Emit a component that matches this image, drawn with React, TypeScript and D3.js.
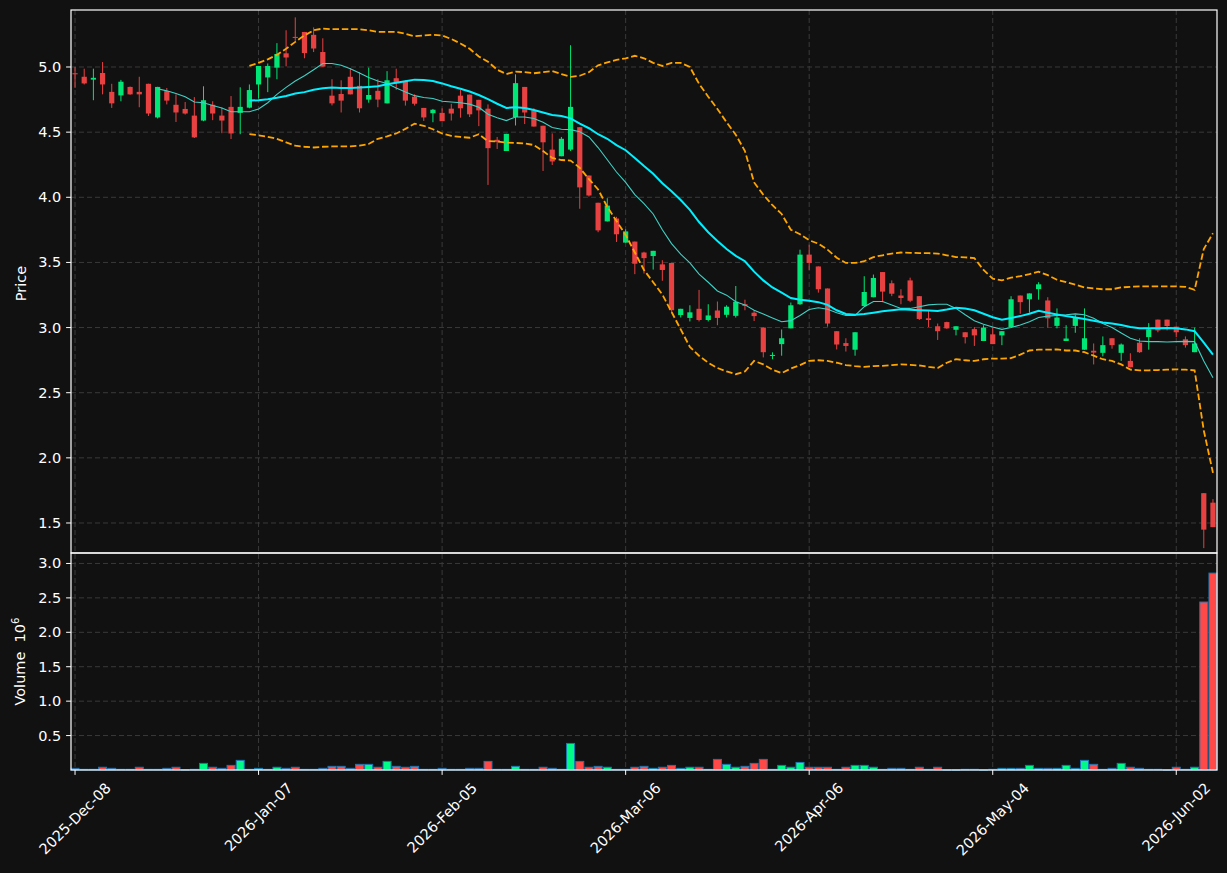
import { useEffect, useRef } from "react";
import * as d3 from "d3";

// daily candles, index 0 = 2025-12-08 (trading days only)
const opens = [
    4.952, 4.925, 4.903, 4.954, 4.809, 4.782, 4.847, 4.809, 4.871, 4.613,
    4.815, 4.71, 4.678, 4.627, 4.589, 4.71, 4.627, 4.694, 4.648, 4.688,
    4.866, 4.92, 4.995, 5.105, 5.231, 5.269, 5.247, 5.115, 4.78, 4.793,
    4.925, 4.855, 4.75, 4.817, 4.721, 4.914, 4.893, 4.772, 4.686, 4.645,
    4.648, 4.68, 4.78, 4.788, 4.748, 4.68, 4.441, 4.355, 4.616, 4.847,
    4.667, 4.549, 4.366, 4.315, 4.366, 4.538, 4.167, 3.958, 3.815, 3.837,
    3.652, 3.66, 3.576, 3.549, 3.485, 3.496, 3.096, 3.074, 3.144, 3.058,
    3.131, 3.098, 3.09, 3.179, 3.114, 3.0, 2.782, 2.873, 2.994, 3.179,
    3.56, 3.469, 3.3, 2.972, 2.881, 2.83, 3.165, 3.233, 3.426, 3.34,
    3.246, 3.362, 3.241, 3.071, 3.01, 3.042, 2.983, 2.964, 2.988, 2.897,
    2.948, 2.94, 3.004, 3.246, 3.217, 3.295, 3.208, 3.013, 2.897, 3.013,
    2.83, 2.822, 2.806, 2.918, 2.806, 2.744, 2.884, 2.927, 3.061, 3.061,
    3.007, 2.91, 2.811, 1.729, 1.656,
];
const highs = [
    5.0, 4.987, 4.987, 5.038, 4.871, 4.901, 4.85, 4.925, 4.872, 4.848,
    4.839, 4.79, 4.731, 4.769, 4.852, 4.737, 4.688, 4.777, 4.844, 4.866,
    5.008, 5.027, 5.183, 5.282, 5.381, 5.269, 5.304, 5.22, 4.906, 4.898,
    4.992, 4.96, 4.995, 4.906, 4.968, 4.987, 4.898, 4.79, 4.686, 4.678,
    4.683, 4.718, 4.823, 4.788, 4.748, 4.713, 4.463, 4.487, 4.944, 4.847,
    4.683, 4.549, 4.49, 4.463, 5.167, 4.538, 4.167, 3.958, 3.993, 3.85,
    3.754, 3.66, 3.582, 3.589, 3.517, 3.496, 3.144, 3.171, 3.289, 3.179,
    3.2, 3.171, 3.319, 3.214, 3.133, 3.0, 2.81, 2.985, 3.192, 3.598,
    3.636, 3.469, 3.3, 2.972, 2.918, 2.964, 3.394, 3.407, 3.426, 3.362,
    3.294, 3.383, 3.241, 3.133, 3.031, 3.045, 3.01, 2.964, 3.004, 3.018,
    3.0, 2.972, 3.241, 3.246, 3.262, 3.348, 3.233, 3.147, 3.018, 3.098,
    3.147, 2.878, 2.932, 2.918, 2.878, 2.803, 2.918, 3.034, 3.061, 3.061,
    3.007, 2.932, 3.0, 1.729, 1.683,
];
const lows = [
    4.84, 4.866, 4.745, 4.79, 4.686, 4.737, 4.787, 4.691, 4.624, 4.605,
    4.713, 4.578, 4.635, 4.455, 4.584, 4.592, 4.492, 4.447, 4.484, 4.683,
    4.758, 4.807, 4.906, 5.005, 5.201, 5.067, 5.115, 5.003, 4.705, 4.651,
    4.79, 4.651, 4.726, 4.691, 4.721, 4.825, 4.704, 4.704, 4.586, 4.576,
    4.584, 4.589, 4.611, 4.616, 4.546, 4.095, 4.371, 4.355, 4.551, 4.562,
    4.543, 4.202, 4.248, 4.315, 4.355, 3.912, 4.006, 3.732, 3.815, 3.657,
    3.652, 3.41, 3.415, 3.445, 3.359, 3.12, 3.077, 3.047, 3.047, 3.047,
    3.018, 3.077, 3.077, 3.133, 3.05, 2.771, 2.757, 2.784, 2.994, 3.174,
    3.442, 3.268, 3.007, 2.832, 2.816, 2.784, 3.165, 3.233, 3.195, 3.241,
    3.179, 3.195, 3.058, 3.004, 2.905, 2.99, 2.94, 2.878, 2.859, 2.897,
    2.873, 2.865, 3.004, 3.106, 3.114, 3.214, 3.0, 2.994, 2.897, 2.96,
    2.83, 2.717, 2.779, 2.838, 2.744, 2.695, 2.806, 2.83, 2.964, 2.978,
    2.926, 2.846, 2.811, 1.307, 1.468,
];
const closes = [
    4.944, 4.874, 4.917, 4.866, 4.721, 4.887, 4.79, 4.79, 4.643, 4.847,
    4.742, 4.651, 4.643, 4.46, 4.745, 4.643, 4.589, 4.49, 4.694, 4.823,
    5.008, 5.008, 5.1, 5.073, 5.223, 5.107, 5.142, 5.003, 4.721, 4.742,
    4.79, 4.683, 4.785, 4.75, 4.898, 4.876, 4.742, 4.718, 4.613, 4.672,
    4.584, 4.643, 4.683, 4.637, 4.667, 4.377, 4.425, 4.487, 4.876, 4.651,
    4.543, 4.422, 4.275, 4.449, 4.694, 4.076, 4.014, 3.746, 3.936, 3.716,
    3.738, 3.49, 3.533, 3.589, 3.442, 3.133, 3.144, 3.117, 3.058, 3.093,
    3.074, 3.16, 3.198, 3.166, 3.088, 2.811, 2.79, 2.918, 3.171, 3.56,
    3.496, 3.294, 3.031, 2.87, 2.859, 2.964, 3.273, 3.381, 3.276, 3.26,
    3.227, 3.206, 3.066, 3.058, 2.972, 2.994, 3.01, 2.926, 2.94, 3.0,
    2.873, 2.972, 3.217, 3.195, 3.262, 3.332, 3.071, 3.077, 2.916, 3.077,
    2.918, 2.808, 2.865, 2.865, 2.87, 2.695, 2.811, 2.986, 2.978, 3.012,
    2.964, 2.865, 2.878, 1.449, 1.468,
];
// volume in millions
const volumes = [
    0.024, 0.01, 0.01, 0.04, 0.024, 0.01, 0.01, 0.04, 0.01, 0.01,
    0.024, 0.04, 0.005, 0.01, 0.096, 0.04, 0.024, 0.067, 0.14, 0.01,
    0.024, 0.01, 0.04, 0.024, 0.04, 0.01, 0.01, 0.024, 0.053, 0.053,
    0.024, 0.082, 0.082, 0.04, 0.125, 0.053, 0.04, 0.053, 0.01, 0.01,
    0.024, 0.01, 0.01, 0.024, 0.024, 0.125, 0.01, 0.01, 0.053, 0.01,
    0.01, 0.04, 0.024, 0.01, 0.386, 0.125, 0.04, 0.053, 0.04, 0.01,
    0.01, 0.04, 0.053, 0.024, 0.04, 0.067, 0.024, 0.04, 0.04, 0.01,
    0.154, 0.082, 0.04, 0.053, 0.096, 0.154, 0.01, 0.067, 0.04, 0.11,
    0.04, 0.04, 0.04, 0.01, 0.04, 0.067, 0.067, 0.04, 0.01, 0.024,
    0.024, 0.01, 0.04, 0.01, 0.04, 0.003, 0.003, 0.01, 0.01, 0.003,
    0.01, 0.024, 0.024, 0.024, 0.067, 0.024, 0.024, 0.024, 0.067, 0.024,
    0.14, 0.082, 0.01, 0.024, 0.096, 0.04, 0.024, 0.01, 0.01, 0.003,
    0.04, 0.01, 0.04, 2.44, 2.86,
];

// short moving average (starts at candle 9)
const maShortStart = 9;
const maShort = [
    4.833, 4.817, 4.796, 4.772, 4.731, 4.726, 4.705, 4.686, 4.656, 4.656,
    4.656, 4.678, 4.726, 4.79, 4.844, 4.893, 4.933, 4.979, 5.027, 5.027,
    5.013, 4.987, 4.954, 4.92, 4.893, 4.874, 4.839, 4.808, 4.78, 4.766,
    4.758, 4.737, 4.731, 4.726, 4.715, 4.691, 4.637, 4.611, 4.589, 4.616,
    4.616, 4.605, 4.576, 4.535, 4.522, 4.519, 4.503, 4.463, 4.382, 4.288,
    4.194, 4.114, 4.02, 3.952, 3.872, 3.751, 3.644, 3.563, 3.496, 3.41,
    3.348, 3.281, 3.249, 3.198, 3.174, 3.133, 3.104, 3.074, 3.045, 3.053,
    3.093, 3.139, 3.152, 3.141, 3.114, 3.093, 3.093, 3.16, 3.2, 3.2,
    3.174, 3.147, 3.147, 3.16, 3.174, 3.179, 3.179, 3.147, 3.098, 3.053,
    3.026, 3.004, 2.986, 3.0, 3.02, 3.045, 3.077, 3.088, 3.093, 3.098,
    3.105, 3.098, 3.071, 3.031, 3.0, 2.959, 2.918, 2.897, 2.892, 2.892,
    2.889, 2.892, 2.894, 2.892, 2.744, 2.615,
];

// long moving average and its bands (start at candle 19)
const bandStart = 19;
const maLong = [
    4.742, 4.745, 4.753, 4.764, 4.777, 4.796, 4.807, 4.825, 4.836, 4.842,
    4.839, 4.839, 4.842, 4.847, 4.852, 4.868, 4.879, 4.891, 4.903, 4.901,
    4.893, 4.874, 4.852, 4.833, 4.812, 4.785, 4.753, 4.718, 4.686, 4.691,
    4.686, 4.67, 4.651, 4.632, 4.624, 4.606, 4.565, 4.53, 4.484, 4.449,
    4.401, 4.361, 4.302, 4.24, 4.181, 4.108, 4.047, 3.979, 3.904, 3.81,
    3.732, 3.665, 3.603, 3.55, 3.509, 3.429, 3.362, 3.308, 3.268, 3.227,
    3.214, 3.206, 3.195, 3.174, 3.133, 3.104, 3.098, 3.104, 3.114, 3.125,
    3.133, 3.141, 3.136, 3.133, 3.131, 3.128, 3.139, 3.152, 3.147, 3.133,
    3.106, 3.079, 3.061, 3.074, 3.088, 3.106, 3.128, 3.114, 3.101, 3.088,
    3.077, 3.066, 3.053, 3.039, 3.031, 3.02, 3.004, 2.994, 2.994, 2.994,
    2.996, 2.994, 2.986, 2.972, 2.884, 2.792,
];
const upperBand = [
    5.008, 5.032, 5.059, 5.094, 5.14, 5.193, 5.242, 5.282, 5.295, 5.29,
    5.29, 5.29, 5.29, 5.282, 5.269, 5.269, 5.269, 5.255, 5.236, 5.242,
    5.247, 5.242, 5.215, 5.18, 5.14, 5.081, 5.04, 4.979, 4.946, 4.965,
    4.96, 4.952, 4.96, 4.968, 4.946, 4.925, 4.933, 4.96, 5.013, 5.035,
    5.054, 5.067, 5.086, 5.067, 5.032, 5.008, 5.032, 5.032, 5.0, 4.871,
    4.772, 4.678, 4.576, 4.48, 4.355, 4.114, 4.02, 3.939, 3.872, 3.751,
    3.716, 3.67, 3.644, 3.598, 3.536, 3.496, 3.496, 3.509, 3.541, 3.555,
    3.568, 3.576, 3.574, 3.571, 3.571, 3.568, 3.555, 3.541, 3.539, 3.533,
    3.442, 3.375, 3.362, 3.383, 3.394, 3.41, 3.429, 3.402, 3.367, 3.348,
    3.329, 3.308, 3.3, 3.294, 3.294, 3.308, 3.313, 3.316, 3.316, 3.316,
    3.316, 3.316, 3.313, 3.289, 3.603, 3.724,
];
const lowerBand = [
    4.484, 4.476, 4.463, 4.449, 4.422, 4.396, 4.388, 4.382, 4.388, 4.39,
    4.39, 4.39, 4.396, 4.409, 4.449, 4.468, 4.49, 4.525, 4.565, 4.549,
    4.522, 4.49, 4.471, 4.463, 4.457, 4.484, 4.431, 4.428, 4.42, 4.417,
    4.414, 4.401, 4.355, 4.302, 4.286, 4.282, 4.226, 4.14, 4.06, 3.926,
    3.818, 3.711, 3.576, 3.442, 3.348, 3.254, 3.12, 2.986, 2.851, 2.784,
    2.73, 2.69, 2.663, 2.642, 2.663, 2.744, 2.717, 2.677, 2.65, 2.685,
    2.712, 2.744, 2.749, 2.744, 2.73, 2.712, 2.704, 2.698, 2.704, 2.706,
    2.712, 2.717, 2.714, 2.709, 2.698, 2.69, 2.73, 2.757, 2.749, 2.744,
    2.757, 2.762, 2.762, 2.765, 2.792, 2.824, 2.83, 2.83, 2.832, 2.824,
    2.824, 2.811, 2.784, 2.757, 2.744, 2.717, 2.677, 2.672, 2.672, 2.674,
    2.677, 2.679, 2.677, 2.672, 2.21, 1.885,
];

const tickIndex = [0, 20, 40, 60, 80, 100, 120];
const tickLabels = [
    "2025-Dec-08",
    "2026-Jan-07",
    "2026-Feb-05",
    "2026-Mar-06",
    "2026-Apr-06",
    "2026-May-04",
    "2026-Jun-02",
];
const priceTicks = [1.5, 2.0, 2.5, 3.0, 3.5, 4.0, 4.5, 5.0];
const volumeTicks = [0.5, 1.0, 1.5, 2.0, 2.5, 3.0];

function App() {
    const svgRef = useRef();

    useEffect(() => {
        const Width = 1227;
        const Height = 873;
        const Margin = { left: 71, right: 1217, top: 10, split: 553, bottom: 770 };
        const font = "'DejaVu Sans', sans-serif";
        const fontSize = 14.5;

        document.body.style.margin = "0";

        const svg = select(svgRef.current)
            .attr("width", Width)
            .attr("height", Height);
        svg.selectAll("*").remove();

        svg.append("rect")
            .attr("width", Width)
            .attr("height", Height)
            .attr("fill", "#111111");

        const xScale = d3
            .scaleLinear()
            .domain([-0.44, 124.44])
            .range([Margin.left, Margin.right]);
        const yPrice = d3
            .scaleLinear()
            .domain([1.2697, 5.4375])
            .range([Margin.split, Margin.top]);
        const yVolume = d3
            .scaleLinear()
            .domain([0, 3.152])
            .range([Margin.bottom, Margin.split]);

        // grid
        const grid = svg
            .append("g")
            .attr("stroke", "#3a3a3a")
            .attr("stroke-width", 1)
            .attr("stroke-dasharray", "5,3");
        priceTicks.forEach((t) => {
            grid.append("line")
                .attr("x1", Margin.left)
                .attr("x2", Margin.right)
                .attr("y1", yPrice(t))
                .attr("y2", yPrice(t));
        });
        volumeTicks.forEach((t) => {
            grid.append("line")
                .attr("x1", Margin.left)
                .attr("x2", Margin.right)
                .attr("y1", yVolume(t))
                .attr("y2", yVolume(t));
        });
        tickIndex.forEach((t) => {
            grid.append("line")
                .attr("x1", xScale(t))
                .attr("x2", xScale(t))
                .attr("y1", Margin.top)
                .attr("y2", Margin.bottom);
        });

        svg.append("defs")
            .append("clipPath")
            .attr("id", "priceClip")
            .append("rect")
            .attr("x", Margin.left)
            .attr("y", Margin.top)
            .attr("width", Margin.right - Margin.left)
            .attr("height", Margin.split - Margin.top);

        // candles
        const candleRed = "#e84142";
        const candleGreen = "#00e676";
        const candles = svg.append("g").attr("clip-path", "url(#priceClip)");
        const bodyWidth = 5.2;

        opens.forEach((o, i) => {
            const c = closes[i];
            const color = c >= o ? candleGreen : candleRed;
            const cx = xScale(i);
            candles
                .append("line")
                .attr("x1", cx)
                .attr("x2", cx)
                .attr("y1", yPrice(highs[i]))
                .attr("y2", yPrice(lows[i]))
                .attr("stroke", color)
                .attr("stroke-width", 1);
            const top = yPrice(Math.max(o, c));
            const h = Math.max(1, yPrice(Math.min(o, c)) - top);
            candles
                .append("rect")
                .attr("x", cx - bodyWidth / 2)
                .attr("y", top)
                .attr("width", bodyWidth)
                .attr("height", h)
                .attr("fill", color);
        });

        // moving averages + bands
        const lineFrom = (start) =>
            d3
                .line()
                .x((d, i) => xScale(i + start))
                .y((d) => yPrice(d));

        candles
            .append("path")
            .attr("d", lineFrom(bandStart)(upperBand))
            .attr("fill", "none")
            .attr("stroke", "#ffa500")
            .attr("stroke-width", 1.8)
            .attr("stroke-dasharray", "6.5,2.8");
        candles
            .append("path")
            .attr("d", lineFrom(bandStart)(lowerBand))
            .attr("fill", "none")
            .attr("stroke", "#ffa500")
            .attr("stroke-width", 1.8)
            .attr("stroke-dasharray", "6.5,2.8");
        candles
            .append("path")
            .attr("d", lineFrom(maShortStart)(maShort))
            .attr("fill", "none")
            .attr("stroke", "#40d0c4")
            .attr("stroke-width", 1.1);
        candles
            .append("path")
            .attr("d", lineFrom(bandStart)(maLong))
            .attr("fill", "none")
            .attr("stroke", "#00f0ff")
            .attr("stroke-width", 2);

        // volume
        const volRed = "#ff4848";
        const volGreen = "#00fa87";
        const barWidth = 8;
        const vol = svg.append("g");
        volumes.forEach((v, i) => {
            const color = closes[i] >= opens[i] ? volGreen : volRed;
            const top = yVolume(v);
            vol.append("rect")
                .attr("x", xScale(i) - barWidth / 2)
                .attr("y", top)
                .attr("width", barWidth)
                .attr("height", Math.max(0.5, Margin.bottom - top))
                .attr("fill", color)
                .attr("stroke", "#1f77b4")
                .attr("stroke-width", 1);
        });

        // frames
        const frame = svg
            .append("g")
            .attr("fill", "none")
            .attr("stroke", "#ffffff")
            .attr("stroke-width", 1.2);
        frame.append("rect")
            .attr("x", Margin.left)
            .attr("y", Margin.top)
            .attr("width", Margin.right - Margin.left)
            .attr("height", Margin.split - Margin.top);
        frame.append("rect")
            .attr("x", Margin.left)
            .attr("y", Margin.split)
            .attr("width", Margin.right - Margin.left)
            .attr("height", Margin.bottom - Margin.split);

        // y ticks
        const yTickGroup = (ticks, scale) => {
            ticks.forEach((t) => {
                const y = scale(t);
                svg.append("line")
                    .attr("x1", Margin.left - 4.9)
                    .attr("x2", Margin.left)
                    .attr("y1", y)
                    .attr("y2", y)
                    .attr("stroke", "#ffffff")
                    .attr("stroke-width", 1);
                svg.append("text")
                    .attr("x", Margin.left - 9.8)
                    .attr("y", y)
                    .attr("text-anchor", "end")
                    .attr("dominant-baseline", "central")
                    .attr("fill", "#ffffff")
                    .attr("font-size", fontSize)
                    .style("font-family", font)
                    .text(t.toFixed(1));
            });
        };
        yTickGroup(priceTicks, yPrice);
        yTickGroup(volumeTicks, yVolume);

        // x ticks, labels rotated 45 deg, centered under the tick
        tickIndex.forEach((t, k) => {
            const x = xScale(t);
            svg.append("line")
                .attr("x1", x)
                .attr("x2", x)
                .attr("y1", Margin.bottom)
                .attr("y2", Margin.bottom + 4.9)
                .attr("stroke", "#ffffff")
                .attr("stroke-width", 1);
            const label = svg
                .append("text")
                .attr("text-anchor", "middle")
                .attr("dominant-baseline", "central")
                .attr("fill", "#ffffff")
                .attr("font-size", fontSize)
                .style("font-family", font)
                .text(tickLabels[k]);
            const len = label.node().getComputedTextLength();
            const cy = Margin.bottom + 9.8 + (len + 16) / (2 * Math.SQRT2);
            label.attr("x", x).attr("y", cy).attr("transform", `rotate(-45, ${x}, ${cy})`);
        });

        // axis labels
        const priceMid = (Margin.top + Margin.split) / 2 + 2;
        svg.append("text")
            .attr("x", 21)
            .attr("y", priceMid)
            .attr("text-anchor", "middle")
            .attr("dominant-baseline", "central")
            .attr("transform", `rotate(-90, 21, ${priceMid})`)
            .attr("fill", "#ffffff")
            .attr("font-size", fontSize)
            .style("font-family", font)
            .text("Price");

        const volMid = (Margin.split + Margin.bottom) / 2;
        const volLabel = svg
            .append("text")
            .attr("x", 20)
            .attr("y", volMid)
            .attr("text-anchor", "middle")
            .attr("dominant-baseline", "central")
            .attr("transform", `rotate(-90, 20, ${volMid})`)
            .attr("fill", "#ffffff")
            .attr("font-size", fontSize)
            .style("font-family", font)
            .style("white-space", "pre");
        volLabel.append("tspan").text("Volume  10");
        volLabel.append("tspan").attr("dy", "-0.45em").attr("font-size", 10.2).text("6");
    }, []);

    return (
        <div style={{ position: "fixed", left: 0, top: 0, background: "#111111" }}>
            <svg ref={svgRef} style={{ display: "block" }}></svg>
        </div>
    );
}

const select = d3.select;

export default App;
